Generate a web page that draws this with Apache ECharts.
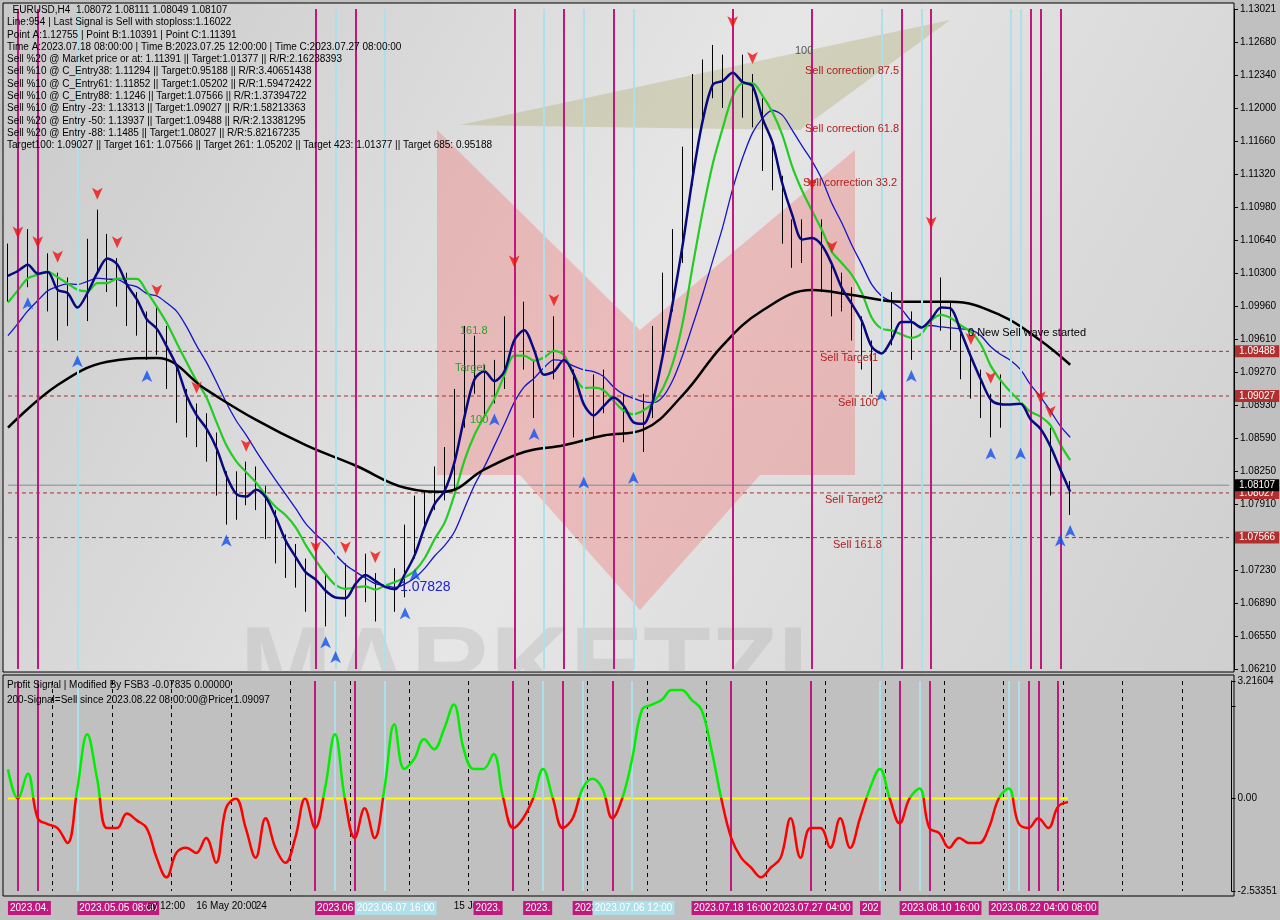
<!DOCTYPE html>
<html><head><meta charset="utf-8">
<script src="https://cdn.jsdelivr.net/npm/echarts@6/dist/echarts.min.js"></script>
<style>html,body{margin:0;padding:0;background:#c0c0c0}#c{width:1280px;height:920px}</style>
</head><body><div id="c"></div>
<script>
const history = [1.0780,1.0795,1.0810,1.0790,1.0820,1.0835,1.0850,1.0840,1.0860,1.0880,1.0870,1.0900,1.0920,1.0905,1.0930,1.0950,1.0975,1.0990,1.1010,1.1030];
const closes = [1.1040,1.1025,1.1050,1.1012,1.1030,1.0995,1.1002,1.0985,1.1040,1.1064,1.1030,1.1022,1.1000,1.0985,1.0960,1.0971,1.0930,1.0899,1.0880,1.0870,1.0857,1.0820,1.0785,1.0800,1.0812,1.0806,1.0775,1.0750,1.0734,1.0725,1.0703,1.0712,1.0690,1.0682,1.0710,1.0734,1.0710,1.0692,1.0715,1.0703,1.0740,1.0775,1.0790,1.0810,1.0816,1.0880,1.0950,1.0930,1.0905,1.0919,1.0960,1.1002,1.0950,1.0899,1.0925,1.0960,1.0935,1.0880,1.0868,1.0900,1.0909,1.0895,1.0875,1.0857,1.0890,1.0950,1.1000,1.1053,1.1130,1.1208,1.1225,1.1239,1.1220,1.1250,1.1210,1.1208,1.1150,1.1136,1.1080,1.1053,1.1060,1.1084,1.1030,1.1002,1.1010,1.0981,1.0950,1.0930,1.0960,1.0992,1.0985,1.0960,1.0975,1.1012,1.0995,1.0971,1.0940,1.0919,1.0900,1.0878,1.0905,1.0899,1.0880,1.0857,1.0870,1.0826,1.0785,1.0801];
const highs = [1.1060,1.1055,1.1075,1.1045,1.1050,1.1030,1.1025,1.1015,1.1065,1.1095,1.1070,1.1045,1.1030,1.1010,1.0990,1.0995,1.0975,1.0935,1.0910,1.0895,1.0885,1.0865,1.0825,1.0825,1.0835,1.0830,1.0810,1.0785,1.0760,1.0750,1.0735,1.0730,1.0720,1.0705,1.0730,1.0760,1.0740,1.0720,1.0730,1.0725,1.0770,1.0800,1.0805,1.0830,1.0850,1.0910,1.0975,1.0965,1.0935,1.0940,1.0985,1.1025,1.1000,1.0940,1.0950,1.0985,1.0970,1.0930,1.0900,1.0925,1.0930,1.0920,1.0905,1.0890,1.0905,1.0975,1.1030,1.1075,1.1160,1.1235,1.1250,1.1265,1.1255,1.1272,1.1255,1.1235,1.1210,1.1160,1.1130,1.1085,1.1085,1.1105,1.1085,1.1040,1.1030,1.1015,1.0985,1.0960,1.0975,1.1010,1.1010,1.0990,1.0995,1.1065,1.1025,1.1000,1.0975,1.0945,1.0930,1.0905,1.0925,1.0920,1.0905,1.0885,1.0885,1.0870,1.0820,1.0815];
const lows = [1.1000,1.0990,1.1015,1.0975,1.0990,1.0960,1.0975,1.0955,1.0980,1.1030,1.1010,1.0995,1.0975,1.0965,1.0940,1.0945,1.0910,1.0875,1.0860,1.0850,1.0835,1.0800,1.0770,1.0775,1.0790,1.0785,1.0755,1.0730,1.0715,1.0705,1.0680,1.0690,1.0665,1.0650,1.0675,1.0705,1.0690,1.0670,1.0685,1.0680,1.0695,1.0735,1.0765,1.0785,1.0795,1.0805,1.0870,1.0905,1.0880,1.0895,1.0910,1.0950,1.0930,1.0880,1.0890,1.0920,1.0910,1.0860,1.0830,1.0860,1.0885,1.0875,1.0855,1.0835,1.0845,1.0880,1.0940,1.0990,1.1040,1.1120,1.1190,1.1210,1.1200,1.1205,1.1190,1.1180,1.1135,1.1115,1.1060,1.1035,1.1040,1.1050,1.1010,1.0985,1.0990,1.0960,1.0930,1.0905,1.0920,1.0955,1.0965,1.0940,1.0950,1.0965,1.0970,1.0950,1.0920,1.0900,1.0880,1.0860,1.0870,1.0880,1.0860,1.0835,1.0840,1.0800,1.0770,1.0780];
const blackMA = [[0,1.0870],[5,1.0914],[10,1.0938],[15,1.0942],[20,1.0909],[25,1.0878],[30,1.0852],[35,1.0831],[40,1.0808],[44,1.0804],[48,1.0827],[52,1.0845],[56,1.0852],[60,1.0862],[64,1.0868],[68,1.0904],[72,1.0955],[76,1.0991],[81,1.1012],[85,1.1007],[90,1.1000],[95,1.1000],[100,1.0986],[104,1.0960],[107,1.0935]];
const osc = [0.8,0,0.68,-0.54,-0.7,-0.81,-1.22,0.27,1.76,0.54,-0.81,-0.81,-0.41,-0.6,-0.81,-1.62,-2.16,-1.49,-1.35,-1.49,-1.08,-1.76,-0.27,0,-0.81,-1.62,-0.54,-1.35,-1.76,-1.08,0,-0.81,0.27,1.76,0,-1.08,-0.27,-1.08,0.27,2.03,0.81,1.08,1.62,1.35,1.89,2.57,1.35,0.81,0.81,1.22,0,-0.81,-0.54,0,0.81,0,-0.81,-0.54,0.27,0.54,0.27,-0.54,0,1.08,2.43,2.57,2.7,2.97,2.97,2.7,2.43,1.35,0,-1.08,-1.62,-1.89,-2.16,-1.89,-1.62,-0.54,-1.62,-0.81,-0.81,-1.35,-0.54,-1.35,-0.54,0.27,0.81,0,-0.68,0,0.27,-0.81,-0.95,-1.35,-1.08,-1.22,-1.22,-0.81,0,0.27,-0.68,-0.81,-0.54,-0.81,-0.22,-0.1];
const priceTicks = ['1.06210','1.06550','1.06890','1.07230','1.07570','1.07910','1.08250','1.08590','1.08930','1.09270','1.09610','1.09960','1.10300','1.10640','1.10980','1.11320','1.11660','1.12000','1.12340','1.12680','1.13021'];
const magentaIdx = [1,3,31,35,51,56,61,73,81,90,93,103,104,106];
const cyanIdx = [7,33,38,54,58,63,88,92,101,102];
const levels = [1.09488,1.09027,1.08027,1.07566];
const lastPrice = 1.08107;
const sellArrowIdx = [1,3,5,9,11,15,19,24,31,34,37,51,55,73,75,81,83,93,97,99,104,105];
const buyArrowIdx = [2,7,14,22,32,33,40,41,49,53,58,63,88,91,99,102,106,107];
const dateIdx = [0,7,14,19,25,31,35,45,47,52,57,59,69,77,86,90,99];
const dateText = ['2023.04.','2023.05.05 08:00','ay 12:00','16 May 20:00','24','2023.06','2023.06.07 16:00','15 Ju','2023.','2023.','2023.','2023.07.06 12:00','2023.07.18 16:00','2023.07.27 04:00','202','2023.08.10 16:00','2023.08.22 04:00 08:00'];
const dateKind = ['m','m','p','p','p','m','c','p','m','m','m','c','m','m','m','m','m'];
const infoLines = ['  EURUSD,H4  1.08072 1.08111 1.08049 1.08107','Line:954 | Last Signal is Sell with stoploss:1.16022','Point A:1.12755 | Point B:1.10391 | Point C:1.11391','Time A:2023.07.18 08:00:00 | Time B:2023.07.25 12:00:00 | Time C:2023.07.27 08:00:00','Sell %20 @ Market price or at: 1.11391 || Target:1.01377 || R/R:2.16238393','Sell %10 @ C_Entry38: 1.11294 || Target:0.95188 || R/R:3.40651438','Sell %10 @ C_Entry61: 1.11852 || Target:1.05202 || R/R:1.59472422','Sell %10 @ C_Entry88: 1.1246 || Target:1.07566 || R/R:1.37394722','Sell %10 @ Entry -23: 1.13313 || Target:1.09027 || R/R:1.58213363','Sell %20 @ Entry -50: 1.13937 || Target:1.09488 || R/R:2.13381295','Sell %20 @ Entry -88: 1.1485 || Target:1.08027 || R/R:5.82167235','Target100: 1.09027 || Target 161: 1.07566 || Target 261: 1.05202 || Target 423: 1.01377 || Target 685: 0.95188'];

const N = 124;
const cats = Array.from({length:N},(_,i)=>String(i));
const all = history.concat(closes);
function sma(p){return closes.map((_,i)=>{const k=i+history.length;let s=0;for(let j=k-p+1;j<=k;j++)s+=all[j];return +(s/p).toFixed(5);});}
const navy = sma(3), green = sma(6), blue = sma(10);
const candles = closes.map((c,i)=>[i===0?history[history.length-1]:closes[i-1],c,lows[i],highs[i]]);
const zeroLine = osc.map(()=>0);
const pmin=1.0621,pmax=1.13021,pint=(pmax-pmin)/20;

function vlines(){return magentaIdx.map(i=>({xAxis:i,lineStyle:{color:'#c0187f',width:2,type:'solid'}}))
  .concat(cyanIdx.map(i=>({xAxis:i,lineStyle:{color:'#aee0ea',width:2,type:'solid'}})));}
function hline(v,col,bg,dash){return {type:'line',xAxisIndex:0,yAxisIndex:0,data:cats.map(()=>v),silent:true,showSymbol:false,z:2,
  lineStyle:{color:col,type:dash,width:1},
  endLabel:{show:true,distance:6,formatter:v.toFixed(5),backgroundColor:bg,color:'#fff',fontSize:10,padding:[1,4]}};}

const series = [
    {type:'candlestick',xAxisIndex:0,yAxisIndex:0,data:candles,barWidth:1,
     itemStyle:{color:'#000',color0:'#000',borderColor:'#000',borderColor0:'#000',borderWidth:1},
     markLine:{symbol:'none',silent:true,label:{show:false},data:vlines()},z:3},
    {type:'line',xAxisIndex:0,yAxisIndex:0,data:blue,showSymbol:false,smooth:0.3,lineStyle:{color:'#1515c8',width:1.3},z:4},
    {type:'line',xAxisIndex:0,yAxisIndex:0,data:green,showSymbol:false,smooth:0.3,lineStyle:{color:'#22cc22',width:2.2},z:4},
    {type:'line',xAxisIndex:0,yAxisIndex:0,data:blackMA,showSymbol:false,smooth:0.4,lineStyle:{color:'#000',width:2.5},z:4},
    {type:'line',xAxisIndex:0,yAxisIndex:0,data:navy,showSymbol:false,smooth:0.3,lineStyle:{color:'#0a0a80',width:2.5},z:5},
    {type:'line',xAxisIndex:1,yAxisIndex:1,data:zeroLine,showSymbol:false,lineStyle:{opacity:0},
     markLine:{symbol:'none',silent:true,label:{show:false},data:vlines()}},
    {type:'line',xAxisIndex:1,yAxisIndex:1,data:zeroLine,showSymbol:false,lineStyle:{color:'#ffff00',width:2},z:4},
    {type:'line',xAxisIndex:1,yAxisIndex:1,data:osc,showSymbol:false,smooth:0.4,lineStyle:{width:2.5},z:5},
    {type:'scatter',xAxisIndex:0,yAxisIndex:0,data:sellArrowIdx.map(i=>[i,highs[i]]),symbol:'arrow',symbolRotate:180,symbolSize:[8,12],symbolOffset:[0,-10],itemStyle:{color:'#ee1111'},z:6},
    {type:'scatter',xAxisIndex:0,yAxisIndex:0,data:buyArrowIdx.map(i=>[i,lows[i]]),symbol:'arrow',symbolSize:[8,12],symbolOffset:[0,10],itemStyle:{color:'#1050ee'},z:6}
];
levels.forEach(v=>series.push(hline(v,'#a03030','#b03030',[4,3])));
series.push(hline(lastPrice,'#7f8a99','#000','solid'));

const chart = echarts.init(document.getElementById('c'));
chart.setOption({
  animation:false,
  backgroundColor:'#c0c0c0',
  textStyle:{fontFamily:'Liberation Sans'},
  grid:[{left:3,right:46,top:9,height:660},{left:3,right:46,top:681,height:210}],
  xAxis:[
    {type:'category',data:cats,gridIndex:0,boundaryGap:true,axisLine:{show:false},axisTick:{show:false},axisLabel:{show:false},splitLine:{show:false}},
    {type:'category',data:cats,gridIndex:1,boundaryGap:true,axisLine:{show:false},axisTick:{show:false},
     splitLine:{show:true,interval:(i)=>i%6===5,lineStyle:{color:'#000',type:[4,4],width:1}},
     axisLabel:{interval:(i)=>dateIdx.includes(i),margin:10,align:'left',fontSize:10,
       formatter:(v)=>{const k=dateIdx.indexOf(+v);if(k<0)return '';const t=dateText[k];return dateKind[k]==='m'?'{m|'+t+'}':dateKind[k]==='c'?'{c|'+t+'}':'{p|'+t+'}';},
       rich:{m:{backgroundColor:'#c0187f',color:'#fff',padding:[2,2],fontSize:10},c:{backgroundColor:'#aee0ea',color:'#fff',padding:[2,2],fontSize:10},p:{color:'#000',fontSize:10}}}}
  ],
  yAxis:[
    {type:'value',gridIndex:0,position:'right',min:pmin,max:pmax,interval:pint,axisLine:{show:true,lineStyle:{color:'#000'}},axisTick:{show:true,length:4,lineStyle:{color:'#000'}},splitLine:{show:false},
     axisLabel:{fontSize:10,color:'#000',margin:6,formatter:(v)=>priceTicks[Math.round((v-pmin)/pint)]||''}},
    {type:'value',gridIndex:1,position:'right',min:-2.53351,max:3.21604,interval:2.53351,axisLine:{show:true,lineStyle:{color:'#000'}},axisTick:{show:true,length:4},splitLine:{show:false},
     axisLabel:{fontSize:10,color:'#000',margin:6,showMaxLabel:true,formatter:(v)=>Math.abs(v)<1e-9?'0.00':Math.abs(v-2.53351)<1e-6?'':v.toFixed(5)}}
  ],
  visualMap:[{type:'piecewise',show:false,seriesIndex:7,dimension:1,min:-10,max:10,pieces:[{min:0,max:10,color:'#00ee00'},{min:-10,max:0,color:'#ff0000'}]}],
  series:series,
  graphic:[
    {type:'rect',z:-10,shape:{x:3,y:3,width:1231,height:669},style:{fill:new echarts.graphic.LinearGradient(0,0,1,1,[{offset:0,color:'#c9c9c9'},{offset:0.5,color:'#e6e6e6'},{offset:1,color:'#cfcfcf'}]),stroke:'#000',lineWidth:1}},
    {type:'rect',z:-10,shape:{x:3,y:675,width:1231,height:221},style:{fill:'#c0c0c0',stroke:'#000',lineWidth:1}},
    {type:'polygon',z:-5,shape:{points:[[460,125],[950,20],[800,130]]},style:{fill:'rgba(170,170,110,0.35)'}},
    {type:'polygon',z:-5,shape:{points:[[437,130],[640,330],[855,150],[855,475],[760,475],[640,610],[520,475],[437,475]]},style:{fill:'rgba(240,110,110,0.35)'}},
    {type:'group',z:-5,clipPath:{type:'rect',shape:{x:3,y:3,width:1231,height:669}},children:[
      {type:'text',x:240,y:618,style:{text:'MARKETZI',font:'bold 110px Liberation Sans',fill:'rgba(150,150,150,0.22)'}}]},
    {type:'text',z:20,left:7,top:4,style:{text:infoLines.join('\n'),font:'10px Liberation Sans',fill:'#000',lineHeight:12.3}},
    {type:'text',z:20,left:7,top:678,style:{text:'Profit Signal | Modified By FSB3 -0.07835 0.00000\n200-Signal=Sell since 2023.08.22 08:00:00@Price:1.09097',font:'10px Liberation Sans',fill:'#000',lineHeight:15}},
    {type:'text',z:20,left:805,top:65,style:{text:'Sell correction 87.5',font:'11px Liberation Sans',fill:'#b02020'}},
    {type:'text',z:20,left:805,top:123,style:{text:'Sell correction 61.8',font:'11px Liberation Sans',fill:'#b02020'}},
    {type:'text',z:20,left:803,top:177,style:{text:'Sell correction 33.2',font:'11px Liberation Sans',fill:'#b02020'}},
    {type:'text',z:20,left:820,top:352,style:{text:'Sell Target1',font:'11px Liberation Sans',fill:'#b02020'}},
    {type:'text',z:20,left:838,top:397,style:{text:'Sell 100',font:'11px Liberation Sans',fill:'#b02020'}},
    {type:'text',z:20,left:825,top:494,style:{text:'Sell Target2',font:'11px Liberation Sans',fill:'#b02020'}},
    {type:'text',z:20,left:833,top:539,style:{text:'Sell 161.8',font:'11px Liberation Sans',fill:'#b02020'}},
    {type:'text',z:20,left:968,top:327,style:{text:'0 New Sell wave started',font:'11px Liberation Sans',fill:'#000'}},
    {type:'text',z:20,left:795,top:45,style:{text:'100',font:'11px Liberation Sans',fill:'#555'}},
    {type:'text',z:20,left:400,top:580,style:{text:'1.07828',font:'14px Liberation Sans',fill:'#2020d0'}},
    {type:'text',z:20,left:460,top:325,style:{text:'161.8',font:'11px Liberation Sans',fill:'#2aa02a'}},
    {type:'text',z:20,left:455,top:362,style:{text:'Target',font:'11px Liberation Sans',fill:'#2aa02a'}},
    {type:'text',z:20,left:470,top:414,style:{text:'100',font:'11px Liberation Sans',fill:'#2aa02a'}}
  ]
});
</script></body></html>
